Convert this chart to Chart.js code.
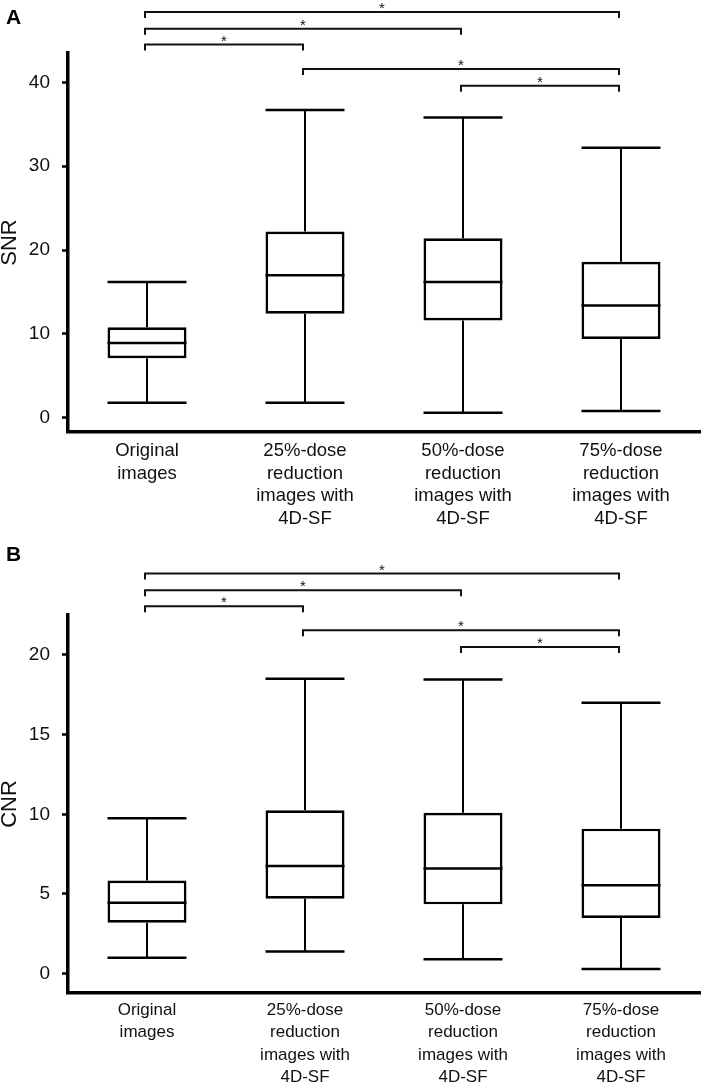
<!DOCTYPE html>
<html>
<head>
<meta charset="utf-8">
<script src="https://cdn.jsdelivr.net/npm/chart.js@4.4.1/dist/chart.umd.min.js"></script>
<style>
  body { margin: 0; background: #fff; }
  #wrap { position: relative; width: 705px; height: 1088px; }
  canvas { position: absolute; left: 0; }
  .panel { position: absolute; left: 6px; font: bold 21px "Liberation Sans", Arial, sans-serif; line-height: 1; color: #000; }
</style>
</head>
<body>
<div id="wrap">
  <canvas id="snrChart" width="705" height="540" style="top:0"></canvas>
  <canvas id="cnrChart" width="705" height="548" style="top:540px"></canvas>
  <div class="panel" style="top:6px">A</div>
  <div class="panel" style="top:543px">B</div>
</div>
<script>
// groups on the x axis (multi-line labels)
var labels = [
    ["Original", "images"],
    ["25%-dose", "reduction", "images with", "4D-SF"],
    ["50%-dose", "reduction", "images with", "4D-SF"],
    ["75%-dose", "reduction", "images with", "4D-SF"]
];

// panel A - SNR
var snrMin    = [1.8, 1.8, 0.6, 0.8];
var snrQ1     = [7.1, 12.4, 11.6, 9.4];
var snrMedian = [8.9, 17.0, 16.2, 13.4];
var snrQ3     = [10.8, 22.2, 21.4, 18.6];
var snrMax    = [16.2, 36.7, 35.8, 32.2];
var snrTicks  = [0, 10, 20, 30, 40];

// panel B - CNR
var cnrMin    = [1.0, 1.4, 0.9, 0.3];
var cnrQ1     = [3.2, 4.7, 4.35, 3.5];
var cnrMedian = [4.45, 6.75, 6.6, 5.55];
var cnrQ3     = [5.85, 10.25, 10.1, 9.1];
var cnrMax    = [9.75, 18.5, 18.45, 17.0];
var cnrTicks  = [0, 5, 10, 15, 20];

// significance brackets (group index from / to, height in data units)
var bracketFrom = [0, 0, 0, 1, 2];
var bracketTo   = [3, 2, 1, 3, 3];
var snrBracketAt = [48.4, 46.4, 44.5, 41.6, 39.6];
var cnrBracketAt = [25.1, 24.05, 23.05, 21.55, 20.5];

var FONT = '"Liberation Sans", Arial, Helvetica, sans-serif';

function boxChart(id, opt) {
    // whiskers, caps, medians and brackets drawn off the chart's own scales
    var whiskers = {
        id: 'whiskers',
        afterDatasetsDraw: function (chart) {
            var ctx = chart.ctx;
            var xs = chart.scales.x, ys = chart.scales.y;
            var bars = chart.getDatasetMeta(0).data;
            ctx.save();
            ctx.strokeStyle = '#000';
            for (var i = 0; i < labels.length; i++) {
                var cx = xs.getPixelForValue(i);
                var half = bars[i].width / 2;
                ctx.lineWidth = 2;
                ctx.beginPath();
                ctx.moveTo(cx, ys.getPixelForValue(opt.q3[i]));
                ctx.lineTo(cx, ys.getPixelForValue(opt.max[i]));
                ctx.moveTo(cx, ys.getPixelForValue(opt.q1[i]));
                ctx.lineTo(cx, ys.getPixelForValue(opt.min[i]));
                ctx.stroke();
                ctx.lineWidth = 2.5;
                ctx.beginPath();
                [opt.max[i], opt.min[i], opt.median[i]].forEach(function (v) {
                    var py = ys.getPixelForValue(v);
                    ctx.moveTo(cx - half, py);
                    ctx.lineTo(cx + half, py);
                });
                ctx.stroke();
            }
            ctx.restore();
        },
        afterDraw: function (chart) {
            var ctx = chart.ctx;
            var xs = chart.scales.x, ys = chart.scales.y;
            ctx.save();
            ctx.strokeStyle = '#111';
            ctx.fillStyle = '#111';
            ctx.lineWidth = 2;
            ctx.font = '15px ' + FONT;
            ctx.textAlign = 'center';
            ctx.textBaseline = 'middle';
            for (var k = 0; k < bracketFrom.length; k++) {
                var x1 = xs.getPixelForValue(bracketFrom[k]) - 2;
                var x2 = xs.getPixelForValue(bracketTo[k]) - 2;
                var py = ys.getPixelForValue(opt.brackets[k]);
                ctx.beginPath();
                ctx.moveTo(x1, py + 6);
                ctx.lineTo(x1, py);
                ctx.lineTo(x2, py);
                ctx.lineTo(x2, py + 6);
                ctx.stroke();
                ctx.fillText('*', (x1 + x2) / 2, py - 3);
            }
            ctx.restore();
        }
    };

    var boxes = [];
    for (var i = 0; i < labels.length; i++) boxes.push([opt.q1[i], opt.q3[i]]);

    return new Chart(document.getElementById(id).getContext('2d'), {
        type: 'bar',
        data: {
            labels: labels,
            datasets: [{
                data: boxes,
                backgroundColor: '#fff',
                borderColor: '#000',
                borderWidth: 2.7,
                borderSkipped: false,
                barPercentage: 0.5,
                categoryPercentage: 1
            }]
        },
        plugins: [whiskers],
        options: {
            responsive: false,
            animation: false,
            layout: { padding: { top: opt.top, right: 5, bottom: 0, left: 0 } },
            plugins: { legend: { display: false }, tooltip: { enabled: false } },
            scales: {
                x: {
                    grid: { display: false, drawTicks: false },
                    border: { display: true, color: '#000', width: 3.5 },
                    ticks: {
                        color: '#111', padding: opt.labelPad, maxRotation: 0, autoSkip: false,
                        font: { family: FONT, size: opt.labelSize, lineHeight: opt.labelLine }
                    },
                    afterFit: function (s) { s.height = opt.xHeight; }
                },
                y: {
                    min: opt.yMin,
                    max: opt.yMax,
                    afterBuildTicks: function (s) {
                        s.ticks = opt.ticks.map(function (v) { return { value: v }; });
                    },
                    grid: { display: true, drawOnChartArea: false, drawTicks: true, tickLength: 6, tickWidth: 2.5, tickColor: '#000' },
                    border: { display: true, color: '#000', width: 3.5 },
                    ticks: { color: '#111', padding: 12, font: { family: FONT, size: 19 } },
                    title: {
                        display: true, text: opt.title, color: '#111',
                        padding: { top: 0, bottom: 0 },
                        font: { family: FONT, size: 22, lineHeight: 0.9 }
                    },
                    afterFit: function (s) { s.width = 68; }
                }
            }
        }
    });
}

boxChart('snrChart', {
    min: snrMin, q1: snrQ1, median: snrMedian, q3: snrQ3, max: snrMax,
    ticks: snrTicks, brackets: snrBracketAt, title: 'SNR',
    yMin: -1.7, yMax: 43.5, top: 53, xHeight: 108,
    labelSize: 18.5, labelLine: 1.216, labelPad: 8
});

boxChart('cnrChart', {
    min: cnrMin, q1: cnrQ1, median: cnrMedian, q3: cnrQ3, max: cnrMax,
    ticks: cnrTicks, brackets: cnrBracketAt, title: 'CNR',
    yMin: -1.21, yMax: 22.5, top: 75, xHeight: 95,
    labelSize: 17, labelLine: 1.32, labelPad: 6
});
</script>
</body>
</html>
